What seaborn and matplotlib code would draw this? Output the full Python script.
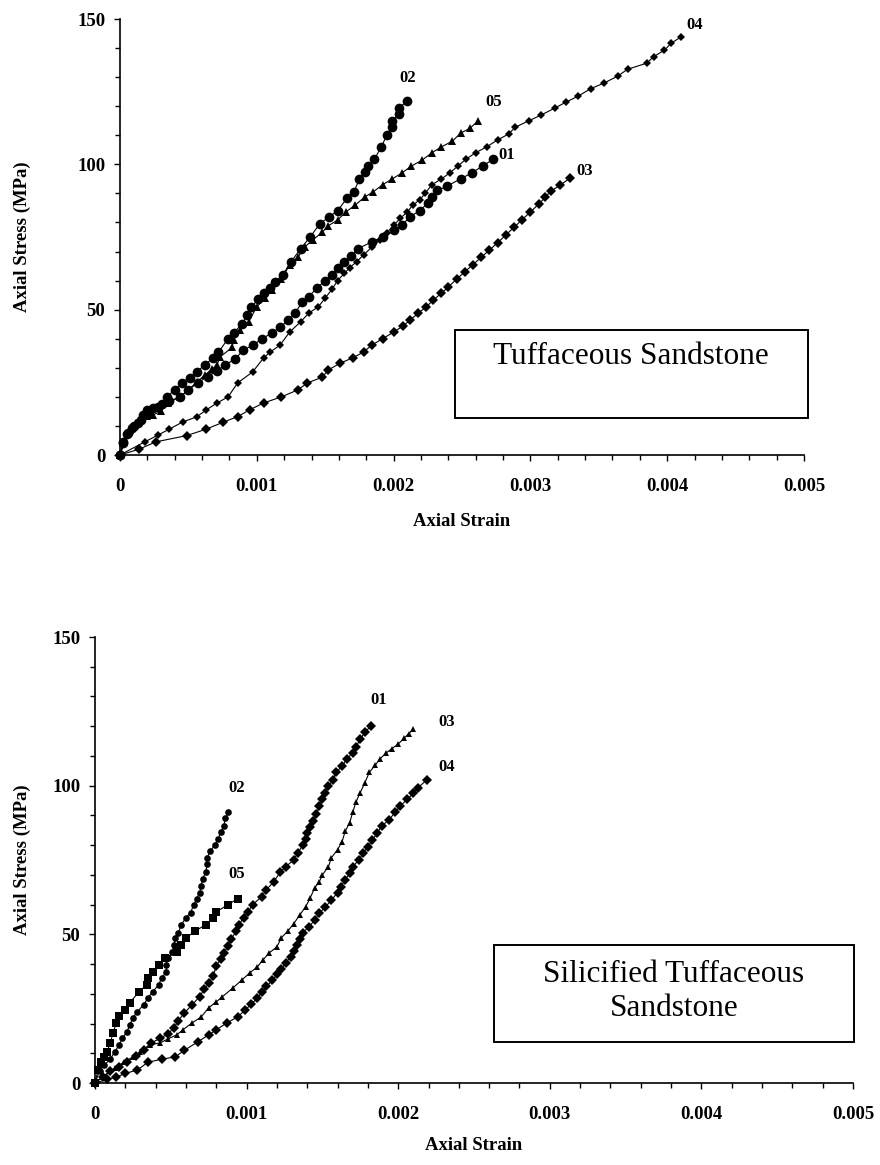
import matplotlib
matplotlib.use("Agg")
import matplotlib.pyplot as plt
from matplotlib.patches import Rectangle
from matplotlib.ticker import MultipleLocator
import seaborn as sns

# ---------------- data: Tuffaceous Sandstone (top) ----------------
top_01_x = [0, 0.00002, 0.00006, 0.0001, 0.00015, 0.0002, 0.00028, 0.00036, 0.00044, 0.0005, 0.00057, 0.00064,
            0.00071, 0.00077, 0.00084, 0.0009, 0.00097, 0.00104, 0.00111, 0.00117, 0.00123, 0.00128, 0.00133,
            0.00138, 0.00144, 0.0015, 0.00155, 0.00159, 0.00164, 0.00169, 0.00174, 0.00184, 0.00192, 0.002,
            0.00206, 0.00212, 0.00219, 0.00225, 0.00228, 0.00232, 0.00239, 0.00249, 0.00257, 0.00265, 0.00273]
top_01_y = [0, 4, 7.5, 10, 12, 14, 16.5, 18.5, 20, 22.4, 24.8, 27, 29, 31, 33, 36, 37.8, 40, 42, 44, 46.4, 48.8,
            52.5, 54.5, 57.5, 60, 62, 64.3, 66.4, 68.5, 71, 73.3, 75, 77.4, 79, 82, 84, 86.7, 88.7, 91, 92.5, 95,
            97, 99.4, 101.8]

top_02_x = [0, 0.00002, 0.00005, 0.00009, 0.00013, 0.00017, 0.0002, 0.00024, 0.00031, 0.00034, 0.0004, 0.00045,
            0.00051, 0.00056, 0.00062, 0.00068, 0.00072, 0.00079, 0.00083, 0.00089, 0.00093, 0.00096, 0.00101,
            0.00105, 0.0011, 0.00113, 0.00119, 0.00125, 0.00132, 0.00139, 0.00146, 0.00153, 0.00159, 0.00166,
            0.00171, 0.00175, 0.00179, 0.00181, 0.00186, 0.00191, 0.00195, 0.00199, 0.00199, 0.00204, 0.00204,
            0.0021]
top_02_y = [0, 4.5, 7.2, 9.3, 11, 13.8, 15.5, 16, 17.5, 20, 22.4, 24.8, 26.5, 28.6, 31, 33.4, 35.4, 40, 42, 45,
            48, 51, 53.5, 55.7, 57.4, 59.5, 62, 66.4, 71, 75, 79.5, 82, 84, 88.4, 90.5, 95, 97.4, 99.4, 101.8,
            106, 110, 112.8, 114.9, 117.3, 119.4, 121.8]

top_03_x = [0, 0.00014, 0.00026, 0.00049, 0.00063, 0.00075, 0.00086, 0.00095, 0.00105, 0.00118, 0.0013, 0.00137,
            0.00148, 0.00152, 0.00161, 0.0017, 0.00178, 0.00184, 0.00192, 0.002, 0.00207, 0.00212, 0.00218,
            0.00224, 0.00229, 0.00235, 0.0024, 0.00246, 0.00252, 0.00258, 0.00264, 0.0027, 0.00276, 0.00282,
            0.00288, 0.00294, 0.003, 0.00306, 0.00311, 0.00315, 0.00322, 0.00329]
top_03_y = [0, 2, 4.5, 6.7, 8.9, 11.2, 13.2, 15.6, 17.9, 20, 22.4, 24.8, 26.8, 29.2, 31.6, 33.4, 35.4, 37.8, 40,
            42.3, 44.4, 46.4, 48.8, 51, 53.3, 55.7, 57.8, 60.5, 63, 65.5, 68, 70.5, 73, 75.7, 78.3, 81, 83.6,
            86.3, 88.7, 90.8, 92.9, 95.3]

top_04_x = [0, 0.00018, 0.00028, 0.00036, 0.00046, 0.00056, 0.00063, 0.00071, 0.00079, 0.00086, 0.00097,
            0.00105, 0.0011, 0.00117, 0.00124, 0.00132, 0.00138, 0.00145, 0.0015, 0.00155, 0.00159, 0.00164,
            0.00168, 0.00173, 0.00178, 0.00184, 0.0019, 0.00195, 0.002, 0.00205, 0.0021, 0.00214, 0.00219,
            0.00223, 0.00228, 0.00235, 0.00241, 0.00247, 0.00253, 0.0026, 0.00268, 0.00276, 0.00284, 0.00289,
            0.00299, 0.00308, 0.00318, 0.00326, 0.00335, 0.00344, 0.00354, 0.00364, 0.00371, 0.00385, 0.0039,
            0.00398, 0.00403, 0.0041]
top_04_y = [0, 4.5, 6.9, 8.9, 11.4, 13.1, 15.5, 17.9, 20, 24.8, 28.6, 33.4, 35.5, 37.8, 42.3, 45.8, 48.8, 51,
            54, 57, 60, 62.5, 64.5, 66.5, 68.8, 71.5, 74, 76.4, 79, 81.5, 83.6, 86, 87.7, 90, 93, 95, 97, 99.4,
            101.8, 104, 106, 108.4, 110.4, 112.8, 115, 117, 119.4, 121.4, 123.5, 126, 128, 130.4, 132.7, 134.8,
            137, 139.3, 141.7, 143.8]

top_05_x = [0, 0.00007, 0.00012, 0.0002, 0.00024, 0.0003, 0.00035, 0.00044, 0.0005, 0.00056, 0.00062, 0.00067,
            0.00071, 0.00073, 0.00082, 0.00083, 0.00088, 0.00094, 0.001, 0.00106, 0.00111, 0.00118, 0.00124,
            0.0013, 0.00135, 0.00141, 0.00148, 0.00152, 0.00159, 0.00165, 0.00172, 0.00179, 0.00185, 0.00192,
            0.00199, 0.00206, 0.00213, 0.00221, 0.00228, 0.00235, 0.00243, 0.00249, 0.00256, 0.00262]
top_05_y = [0, 8.6, 11, 13.4, 13.8, 15, 17.9, 20, 22.5, 25, 27.5, 29.5, 31, 33.7, 37, 39.6, 43, 45.8, 51, 54,
            56.8, 60.5, 65.4, 68, 71.6, 74, 76.7, 78.8, 80.8, 83.6, 86, 88.8, 90.5, 93, 95, 97, 99.4, 101.5, 104,
            106, 108, 110.7, 112.5, 115]

# ---------------- data: Silicified Tuffaceous Sandstone (bottom) ----------------
bot_01_x = [0, 0.00005, 0.0001, 0.00016, 0.00021, 0.00027, 0.00032, 0.00037, 0.00043, 0.00048, 0.00052, 0.00055,
            0.00059, 0.00064, 0.00069, 0.00072, 0.00075, 0.00078, 0.0008, 0.00083, 0.00085, 0.00088, 0.0009,
            0.00093, 0.00095, 0.00098, 0.00101, 0.00104, 0.0011, 0.00113, 0.00118, 0.00122, 0.00126, 0.00131,
            0.00134, 0.00137, 0.00139, 0.0014, 0.00142, 0.00144, 0.00146, 0.00148, 0.0015, 0.00152, 0.00154,
            0.00157, 0.00159, 0.00163, 0.00166, 0.0017, 0.00172, 0.00175, 0.00178, 0.00182]
bot_01_y = [0, 2, 4, 5.5, 7.1, 9, 11, 13.5, 15, 16.5, 18.5, 21, 23.6, 26.3, 29, 31.5, 33.5, 36, 39.4, 41.8, 43.8,
            46.2, 48.5, 51, 53.3, 55.6, 57.6, 60, 62.7, 65, 67.7, 70.8, 72.8, 75, 77.5, 80, 82, 84, 86, 88, 90.5,
            93, 95.4, 97.7, 99.8, 102, 104.5, 106.5, 109, 111, 113, 115.6, 118, 120]

bot_02_x = [0, 0.00003, 0.00006, 0.0001, 0.00013, 0.00016, 0.00018, 0.00021, 0.00023, 0.00025, 0.00028, 0.00032,
            0.00035, 0.00038, 0.00042, 0.00044, 0.00047, 0.00047, 0.00048, 0.00051, 0.00052, 0.00053, 0.00055,
            0.00057, 0.0006, 0.00063, 0.00065, 0.00067, 0.00069, 0.0007, 0.00071, 0.00073, 0.00074, 0.00074,
            0.00076, 0.00079, 0.00081, 0.00083, 0.00085, 0.00086, 0.00088]
bot_02_y = [0, 4, 6, 8, 10.5, 12.8, 15, 17.2, 19.5, 22, 24, 26.3, 28.6, 30.7, 33, 35.4, 37.4, 39.8, 42, 44, 46.5,
            48.9, 50.6, 53.3, 55.6, 57.3, 59.7, 62, 64, 66.4, 68.7, 70.8, 73.5, 75.8, 78, 80, 82, 84.3, 86.6, 89,
            91]

bot_03_x = [0, 0.00005, 0.00013, 0.00019, 0.00025, 0.0003, 0.00036, 0.00043, 0.00048, 0.00054, 0.00058, 0.00064,
            0.0007, 0.00075, 0.0008, 0.00084, 0.00091, 0.00097, 0.00102, 0.00107, 0.00111, 0.00115, 0.0012,
            0.00123, 0.00127, 0.00131, 0.00135, 0.00139, 0.00142, 0.00145, 0.00148, 0.0015, 0.00154, 0.00156,
            0.0016, 0.00163, 0.00165, 0.00168, 0.0017, 0.00172, 0.00175, 0.00178, 0.00181, 0.00185, 0.00188,
            0.00192, 0.00196, 0.002, 0.00204, 0.00207, 0.0021]
bot_03_y = [0, 2, 5, 7, 8.8, 10.5, 12.8, 13.5, 14.8, 16.2, 17.9, 20.2, 22.2, 25.3, 27.3, 29, 32, 34.7, 37, 39,
            41.5, 43.8, 45.8, 48.9, 51, 53.5, 56.5, 59.3, 62.3, 65.7, 67.7, 70, 72.8, 75.8, 78.5, 81.2, 84.6,
            87.6, 91, 94.4, 97.7, 101, 104.5, 107, 109, 111, 112.5, 114, 116, 117.5, 119]

bot_04_x = [0, 0.00008, 0.00014, 0.0002, 0.00028, 0.00035, 0.00044, 0.00053, 0.00059, 0.00068, 0.00075, 0.0008,
            0.00087, 0.00094, 0.00099, 0.00103, 0.00107, 0.0011, 0.00113, 0.00117, 0.0012, 0.00123, 0.00126,
            0.00129, 0.00131, 0.00133, 0.00135, 0.00137, 0.00141, 0.00145, 0.00148, 0.00152, 0.00156, 0.0016,
            0.00162, 0.00165, 0.00168, 0.0017, 0.00174, 0.00177, 0.0018, 0.00183, 0.00186, 0.00189, 0.00194,
            0.00198, 0.00201, 0.00206, 0.0021, 0.00213, 0.00219]
bot_04_y = [0, 1.2, 2, 3.2, 4.4, 7, 8, 8.8, 11, 13.9, 16.2, 17.9, 20.2, 22.2, 24.5, 26.5, 28.5, 30.5, 32.5, 34.5,
            36.5, 38.5, 40.5, 42.5, 44.5, 46.5, 48.5, 50.5, 52.5, 54.8, 57.2, 59.2, 61.6, 64, 66, 68.3, 70.6,
            72.7, 75, 77.4, 79.4, 81.7, 84, 86.3, 88.6, 91, 93, 95.4, 97.5, 99.3, 102]

bot_05_x = [0, 0.00002, 0.00004, 0.00006, 0.00008, 0.0001, 0.00012, 0.00014, 0.00016, 0.0002, 0.00023, 0.00029,
            0.00034, 0.00035, 0.00038, 0.00042, 0.00046, 0.00054, 0.00057, 0.0006, 0.00066, 0.00073, 0.00078,
            0.0008, 0.00088, 0.00094]
bot_05_y = [0, 4.4, 7.1, 8.8, 10.5, 13.5, 16.9, 20.2, 22.6, 24.6, 27, 30.7, 33, 35.4, 37.4, 39.8, 42, 44, 46.5,
            48.9, 51, 53.3, 55.6, 57.6, 60, 62]

series_labels = ["01", "02", "03", "04", "05"]
top_label_pos = [(0.00283, 103.2), (0.0021, 129.7), (0.00340, 97.7), (0.00420, 147.9), (0.00273, 121.4)]
bot_label_pos = [(0.00187, 128.8), (0.000935, 99.1), (0.00232, 121.5), (0.00232, 106.2), (0.000935, 70.3)]

x_ticks = [0, 0.001, 0.002, 0.003, 0.004, 0.005]
x_tick_labels = ["0", "0.001", "0.002", "0.003", "0.004", "0.005"]
y_ticks = [0, 50, 100, 150]
y_tick_labels = ["0", "50", "100", "150"]

# ---------------- style ----------------
sns.set_style("ticks")
plt.rcParams["font.family"] = ["Liberation Serif", "DejaVu Serif"]
plt.rcParams["text.color"] = "black"
plt.rcParams["axes.labelcolor"] = "black"
plt.rcParams["xtick.color"] = "black"
plt.rcParams["ytick.color"] = "black"
plt.rcParams["axes.edgecolor"] = "black"

W, H = 880, 1165
fig = plt.figure(figsize=(W / 100, H / 100), dpi=100)
fig.patch.set_facecolor("white")

ax1 = fig.add_axes([120 / W, (H - 455) / H, 684 / W, 436 / H])
ax2 = fig.add_axes([95 / W, (H - 1083) / H, 758 / W, 446 / H])

top_series = [
    (top_01_x, top_01_y, "o", 7.0),
    (top_02_x, top_02_y, "o", 7.0),
    (top_03_x, top_03_y, "D", 4.6),
    (top_04_x, top_04_y, "D", 3.8),
    (top_05_x, top_05_y, "^", 6.0),
]
bot_series = [
    (bot_01_x, bot_01_y, "D", 4.6),
    (bot_02_x, bot_02_y, "o", 4.8),
    (bot_03_x, bot_03_y, "^", 5.0),
    (bot_04_x, bot_04_y, "D", 4.6),
    (bot_05_x, bot_05_y, "s", 6.3),
]

for ax, series, lab_pos in ((ax1, top_series, top_label_pos), (ax2, bot_series, bot_label_pos)):
    for xs, ys, mk, ms in series:
        sns.lineplot(x=xs, y=ys, ax=ax, sort=False, estimator=None, color="black",
                     linewidth=0.8, marker=mk, markersize=ms, markeredgewidth=0,
                     markerfacecolor="black", clip_on=False)
    for lab, (lx, ly) in zip(series_labels, lab_pos):
        ax.text(lx, ly, lab, fontsize=12, fontweight="bold", ha="center", va="center",
                color="black")

    ax.set_xlim(0, 0.005)
    ax.set_ylim(0, 150)
    ax.set_xticks(x_ticks)
    ax.set_xticklabels(x_tick_labels)
    ax.set_yticks(y_ticks)
    ax.set_yticklabels(y_tick_labels)
    ax.xaxis.set_minor_locator(MultipleLocator(0.0002))
    ax.yaxis.set_minor_locator(MultipleLocator(10))
    ax.tick_params(axis="both", which="major", direction="out", length=4.6, width=1.0,
                   color="black", labelcolor="black", labelsize=13.5)
    ax.tick_params(axis="x", which="major", pad=12)
    ax.tick_params(axis="y", which="major", pad=6)
    ax.tick_params(axis="both", which="minor", direction="out", length=3.6, width=1.0,
                   color="black")
    for lbl in ax.get_xticklabels() + ax.get_yticklabels():
        lbl.set_fontweight("bold")
    for sp in ("top", "right"):
        ax.spines[sp].set_visible(False)
    for sp in ("left", "bottom"):
        ax.spines[sp].set_linewidth(1.2)
        ax.spines[sp].set_color("black")
    ax.set_facecolor("white")
    ax.set_xlabel("Axial Strain", fontsize=13.5, fontweight="bold", color="black")
    ax.set_ylabel("Axial Stress (MPa)", fontsize=13.5, fontweight="bold", color="black")

ax1.xaxis.set_label_coords(0.5, (455 - 513) / 436)
ax1.yaxis.set_label_coords((31 - 120) / 684, 0.5)
ax2.xaxis.set_label_coords(0.5, (1083 - 1137) / 446)
ax2.yaxis.set_label_coords((31 - 95) / 758, 0.5)

# ---------------- annotation boxes ----------------
def fig_box(x0, y0, x1, y1):
    rect = Rectangle((x0 / W, (H - y1) / H), (x1 - x0) / W, (y1 - y0) / H,
                     transform=fig.transFigure, facecolor="white", edgecolor="black",
                     linewidth=1.4, zorder=5)
    fig.add_artist(rect)

fig_box(455, 330, 808, 418)
fig.text(631 / W, (H - 356) / H, "Tuffaceous Sandstone", fontsize=22.5,
         ha="center", va="center", zorder=6, color="black")

fig_box(494, 945, 854, 1042)
fig.text(674 / W, (H - 974) / H, "Silicified Tuffaceous", fontsize=22.5,
         ha="center", va="center", zorder=6, color="black")
fig.text(674 / W, (H - 1008) / H, "Sandstone", fontsize=22.5,
         ha="center", va="center", zorder=6, color="black")

fig.savefig("out.png", dpi=100, facecolor="white")
